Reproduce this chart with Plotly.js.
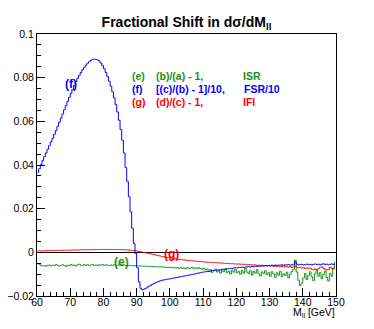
<!DOCTYPE html>
<html>
<head>
<meta charset="utf-8">
<script src="https://cdn.plot.ly/plotly-3.0.1.min.js"></script>
<style>html,body{margin:0;padding:0;background:#fff;}#chart{width:374px;height:329px;}</style>
</head>
<body>
<div id="chart"></div>
<script>
// Histogram binning (M_ll in GeV): 180 bins of 0.5 GeV from 60 to 150
const binStart = 60;
const binWidth = 0.5;

// (f) [(c)/(b) - 1]/10  (FSR/10)
const fsrOver10 = [
 0.0365,0.0383,0.0402,0.0420,0.0438,0.0455,0.0472,0.0489,0.0506,0.0523,
 0.0540,0.0558,0.0577,0.0596,0.0615,0.0634,0.0653,0.0672,0.0691,0.0710,
 0.0728,0.0746,0.0764,0.0782,0.0797,0.0811,0.0824,0.0836,0.0847,0.0857,
 0.0866,0.0873,0.0879,0.0883,0.0885,0.0884,0.0881,0.0876,0.0867,0.0855,
 0.0841,0.0824,0.0805,0.0784,0.0761,0.0736,0.0708,0.0677,0.0643,0.0605,
 0.0562,0.0513,0.0455,0.0388,0.0325,0.0255,0.0185,0.0110,0.0040,-0.0005,
 -0.0070,-0.0135,-0.0165,-0.0172,-0.0169,-0.0165,-0.0160,-0.0155,-0.0151,-0.0147,
 -0.0143,-0.0139,-0.0136,-0.0133,-0.0130,-0.0128,-0.0126,-0.0124,-0.0123,-0.0122,
 -0.0121,-0.0119,-0.0118,-0.0116,-0.0115,-0.0113,-0.0112,-0.0110,-0.0109,-0.0107,
 -0.0106,-0.0104,-0.0103,-0.0101,-0.0100,-0.0098,-0.0096,-0.0095,-0.0093,-0.0091,
 -0.0090,-0.0089,-0.0088,-0.0087,-0.0086,-0.0084,-0.0083,-0.0082,-0.0081,-0.0080,
 -0.0080,-0.0078,-0.0077,-0.0077,-0.0075,-0.0075,-0.0073,-0.0074,-0.0072,-0.0071,
 -0.0071,-0.0069,-0.0070,-0.0068,-0.0069,-0.0067,-0.0067,-0.0066,-0.0067,-0.0065,
 -0.0066,-0.0064,-0.0065,-0.0063,-0.0064,-0.0062,-0.0063,-0.0061,-0.0062,-0.0060,
 -0.0062,-0.0059,-0.0061,-0.0058,-0.0060,-0.0058,-0.0059,-0.0057,-0.0060,-0.0057,
 -0.0058,-0.0056,-0.0059,-0.0057,-0.0055,-0.0042,-0.0054,-0.0058,-0.0056,-0.0055,
 -0.0058,-0.0056,-0.0054,-0.0057,-0.0055,-0.0058,-0.0055,-0.0053,-0.0056,-0.0054,
 -0.0057,-0.0055,-0.0052,-0.0056,-0.0054,-0.0057,-0.0055,-0.0053,-0.0056,-0.0054
];

// (e) (b)/(a) - 1  (ISR)
const isr = [
 -0.0052,-0.0055,-0.0060,-0.0062,-0.0061,-0.0064,-0.0060,-0.0058,-0.0062,-0.0059,
 -0.0061,-0.0056,-0.0059,-0.0063,-0.0060,-0.0057,-0.0061,-0.0064,-0.0059,-0.0061,
 -0.0056,-0.0060,-0.0058,-0.0062,-0.0057,-0.0054,-0.0059,-0.0061,-0.0056,-0.0060,
 -0.0057,-0.0061,-0.0058,-0.0055,-0.0060,-0.0058,-0.0061,-0.0057,-0.0059,-0.0056,
 -0.0060,-0.0057,-0.0059,-0.0061,-0.0058,-0.0060,-0.0057,-0.0060,-0.0058,-0.0059,
 -0.0057,-0.0060,-0.0059,-0.0060,-0.0061,-0.0060,-0.0061,-0.0061,-0.0062,-0.0061,
 -0.0062,-0.0062,-0.0063,-0.0063,-0.0063,-0.0064,-0.0064,-0.0064,-0.0065,-0.0065,
 -0.0065,-0.0066,-0.0066,-0.0067,-0.0066,-0.0068,-0.0067,-0.0069,-0.0068,-0.0070,
 -0.0068,-0.0071,-0.0069,-0.0072,-0.0070,-0.0073,-0.0069,-0.0074,-0.0071,-0.0075,
 -0.0070,-0.0074,-0.0072,-0.0068,-0.0075,-0.0071,-0.0076,-0.0070,-0.0074,-0.0078,
 -0.0073,-0.0081,-0.0076,-0.0088,-0.0079,-0.0092,-0.0083,-0.0077,-0.0090,-0.0084,
 -0.0095,-0.0080,-0.0089,-0.0075,-0.0093,-0.0086,-0.0099,-0.0082,-0.0091,-0.0078,
 -0.0094,-0.0087,-0.0101,-0.0083,-0.0096,-0.0072,-0.0090,-0.0098,-0.0085,-0.0104,
 -0.0088,-0.0095,-0.0079,-0.0099,-0.0108,-0.0090,-0.0097,-0.0084,-0.0102,-0.0093,
 -0.0110,-0.0089,-0.0099,-0.0115,-0.0094,-0.0105,-0.0087,-0.0112,-0.0098,-0.0106,
 -0.0091,-0.0117,-0.0100,-0.0088,-0.0079,-0.0036,-0.0090,-0.0128,-0.0152,-0.0141,
 -0.0118,-0.0097,-0.0124,-0.0105,-0.0089,-0.0112,-0.0130,-0.0098,-0.0080,-0.0109,
 -0.0093,-0.0121,-0.0102,-0.0086,-0.0115,-0.0131,-0.0096,-0.0110,-0.0072,-0.0045
];

// (g) (d)/(c) - 1  (IFI)
const ifi = [
 0.0006,0.0007,0.0006,0.0007,0.0007,0.0008,0.0007,0.0008,0.0008,0.0008,
 0.0009,0.0008,0.0009,0.0009,0.0009,0.0010,0.0009,0.0010,0.0010,0.0010,
 0.0010,0.0011,0.0010,0.0011,0.0011,0.0011,0.0011,0.0012,0.0011,0.0012,
 0.0012,0.0012,0.0012,0.0012,0.0013,0.0012,0.0013,0.0013,0.0013,0.0013,
 0.0013,0.0013,0.0013,0.0013,0.0013,0.0013,0.0013,0.0013,0.0013,0.0012,
 0.0012,0.0012,0.0012,0.0011,0.0011,0.0010,0.0010,0.0009,0.0008,0.0007,
 0.0006,0.0004,0.0003,0.0001,-0.0001,-0.0002,-0.0004,-0.0005,-0.0007,-0.0008,
 -0.0010,-0.0012,-0.0014,-0.0016,-0.0017,-0.0019,-0.0021,-0.0022,-0.0024,-0.0025,
 -0.0027,-0.0028,-0.0029,-0.0030,-0.0031,-0.0032,-0.0033,-0.0034,-0.0035,-0.0036,
 -0.0037,-0.0038,-0.0038,-0.0039,-0.0040,-0.0040,-0.0041,-0.0042,-0.0042,-0.0043,
 -0.0044,-0.0044,-0.0045,-0.0045,-0.0046,-0.0046,-0.0047,-0.0047,-0.0048,-0.0048,
 -0.0049,-0.0049,-0.0050,-0.0050,-0.0051,-0.0051,-0.0052,-0.0052,-0.0053,-0.0053,
 -0.0054,-0.0053,-0.0055,-0.0054,-0.0056,-0.0055,-0.0057,-0.0056,-0.0058,-0.0057,
 -0.0059,-0.0057,-0.0060,-0.0058,-0.0061,-0.0059,-0.0062,-0.0060,-0.0062,-0.0061,
 -0.0063,-0.0061,-0.0064,-0.0062,-0.0065,-0.0063,-0.0066,-0.0063,-0.0067,-0.0064,
 -0.0066,-0.0068,-0.0065,-0.0069,-0.0066,-0.0062,-0.0068,-0.0071,-0.0069,-0.0072,
 -0.0070,-0.0074,-0.0071,-0.0075,-0.0072,-0.0078,-0.0080,-0.0076,-0.0079,-0.0075,
 -0.0069,-0.0067,-0.0073,-0.0077,-0.0081,-0.0079,-0.0068,-0.0074,-0.0076,-0.0071
];

const titleText = "Fractional Shift in dσ/dM<sub>ll</sub>";
const xTitleText = "M<sub>ll</sub> [GeV]";
const legendTags = ["(e)", "(f)", "(g)"];
const legendFormulas = ["(b)/(a) - 1,", "[(c)/(b) - 1]/10,", "(d)/(c) - 1,"];
const legendNames = ["ISR", "FSR/10", "IFI"];

const FONT = "Liberation Sans, Arial, Helvetica, sans-serif";
const GREEN = "#179317";
const BLUE = "#0000ff";
const RED = "#ff0000";
const colors = [GREEN, BLUE, RED];

const half = binWidth / 2;
function histTrace(vals, color) {
  return {
    type: "scatter", mode: "lines",
    x0: binStart + half, dx: binWidth, y: vals,
    line: {color: color, width: 1, shape: "hvh"},
    hoverinfo: "skip", showlegend: false
  };
}

const traces = [histTrace(isr, GREEN), histTrace(ifi, RED), histTrace(fsrOver10, BLUE)];

const ann = [];
const rowY = [0.8397, 0.790, 0.740];
const nameX = [0.6846, 0.689, 0.6846];
for (let i = 0; i < 3; i++) {
  const f = {family: FONT, size: 10.5, color: colors[i], weight: "bold"};
  ann.push({xref: "paper", yref: "paper", x: 0.3134, y: rowY[i], xanchor: "left", yanchor: "middle", text: legendTags[i], showarrow: false, font: f, borderpad: 0});
  ann.push({xref: "paper", yref: "paper", x: 0.3946, y: rowY[i], xanchor: "left", yanchor: "middle", text: legendFormulas[i], showarrow: false, font: f, borderpad: 0});
  ann.push({xref: "paper", yref: "paper", x: nameX[i], y: rowY[i], xanchor: "left", yanchor: "middle", text: legendNames[i], showarrow: false, font: f, borderpad: 0});
}
// labels on curves
ann.push({xref: "paper", yref: "paper", x: 0.0903, y: 0.809, xanchor: "left", yanchor: "middle", text: "(f)", showarrow: false, borderpad: 0, font: {family: FONT, size: 12, color: BLUE, weight: "bold"}});
ann.push({xref: "paper", yref: "paper", x: 0.2532, y: 0.1309, xanchor: "left", yanchor: "middle", text: "(e)", showarrow: false, borderpad: 0, font: {family: FONT, size: 12, color: GREEN, weight: "bold"}});
ann.push({xref: "paper", yref: "paper", x: 0.4204, y: 0.161, xanchor: "left", yanchor: "middle", text: "(g)", showarrow: false, borderpad: 0, font: {family: FONT, size: 12, color: RED, weight: "bold"}});
// x-axis title
ann.push({xref: "paper", yref: "paper", x: 1, y: -0.064, xanchor: "right", yanchor: "middle", text: xTitleText, showarrow: false, borderpad: 0, font: {family: FONT, size: 10.5, color: "#000"}});

const layout = {
  width: 374, height: 329,
  margin: {l: 37, r: 38, t: 34, b: 33, pad: 0},
  paper_bgcolor: "#fff", plot_bgcolor: "#fff",
  font: {family: FONT, size: 10.5, color: "#000"},
  title: {text: titleText, x: 0.5, xanchor: "center", xref: "paper", y: 1 - 22 / 329, yanchor: "middle", yref: "container",
          font: {family: FONT, size: 14, color: "#000", weight: "bold"}},
  xaxis: {range: [60, 150], dtick: 10, tick0: 60, ticks: "inside", ticklen: 8, tickwidth: 1, tickcolor: "#000",
          ticklabelstandoff: -4,
          showline: true, linecolor: "#000", linewidth: 1, mirror: true, showgrid: false, zeroline: false,
          minor: {dtick: 2, ticks: "inside", ticklen: 4, tickwidth: 1, tickcolor: "#000", showgrid: false},
          tickfont: {family: FONT, size: 10.5, color: "#000"}, fixedrange: true},
  yaxis: {range: [-0.02, 0.1], dtick: 0.02, tick0: 0, ticks: "inside", ticklen: 8, tickwidth: 1, tickcolor: "#000",
          showline: true, linecolor: "#000", linewidth: 1, mirror: true, showgrid: false,
          zeroline: true, zerolinecolor: "#000", zerolinewidth: 1,
          minor: {dtick: 0.005, ticks: "inside", ticklen: 4, tickwidth: 1, tickcolor: "#000", showgrid: false},
          tickfont: {family: FONT, size: 10.5, color: "#000"}, fixedrange: true},
  annotations: ann,
  showlegend: false
};

Plotly.newPlot("chart", traces, layout, {staticPlot: true, displayModeBar: false});
</script>
</body>
</html>
